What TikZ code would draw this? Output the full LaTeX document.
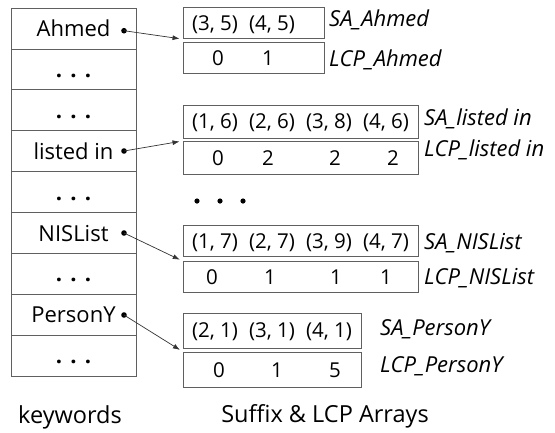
\documentclass[tikz,border=0pt]{standalone}
\usepackage{fontspec}
\setmainfont{Open Sans}
\usetikzlibrary{arrows.meta}

\tikzset{
  kwcell/.style={draw=gray!75!black, line width=0.8pt, minimum width=125pt, minimum height=40.94pt,
    inner sep=0pt, font=\fontsize{22pt}{24pt}\selectfont, text height=15.7pt, text depth=0pt},
  arr/.style={draw=gray!75!black, line width=0.8pt, anchor=north west, inner sep=0pt},
  entry/.style={font=\fontsize{20.5pt}{22pt}\selectfont, text height=14.6pt, text depth=0pt, inner sep=0pt},
  arrname/.style={font=\fontsize{22pt}{24pt}\selectfont\itshape, text height=15.7pt, text depth=0pt,
    inner sep=0pt, anchor=west},
  link/.style={draw=black!80, line width=0.7pt, -{Latex[length=7pt,width=5pt]}, shorten >=3pt},
  caption/.style={font=\fontsize{23.5pt}{26pt}\selectfont}
}
\newcommand{\kdots}{\textbf{.}\hspace{8.2pt}\textbf{.}\hspace{8.2pt}\textbf{.}}

\begin{document}
\begin{tikzpicture}[x=1pt,y=-1pt]
    \useasboundingbox (0,0) rectangle (555,432);
    % keyword column
    \foreach \t [count=\i] in {Ahmed,\kdots,\kdots,listed in,\kdots,NISList,\kdots,PersonY,\kdots}
        \node[kwcell] (k\i) at (73.5,{28.47+40.94*(\i-1)}) {\t};
    % start points of the pointers
    \coordinate (d1) at (124,30.7);
    \coordinate (d4) at (124,151);
    \coordinate (d6) at (124,233);
    \coordinate (d8) at (124,315);
    \foreach \d in {d1,d4,d6,d8}
        \fill (\d) circle (2.8);
    % suffix arrays and LCP arrays
    \node[arr, minimum width=141pt, minimum height=31pt] (sa1) at (182.5,7.3) {};
    \node[arr, minimum width=141pt, minimum height=31pt] (lcp1) at (182.5,42.3) {};
    \node[arr, minimum width=235pt, minimum height=33pt] (sa2) at (182.5,104.7) {};
    \node[arr, minimum width=235pt, minimum height=33pt] (lcp2) at (182.5,141) {};
    \node[arr, minimum width=235pt, minimum height=31pt] (sa3) at (182.5,225) {};
    \node[arr, minimum width=235pt, minimum height=31pt] (lcp3) at (182.5,261) {};
    \node[arr, minimum width=178pt, minimum height=35pt] (sa4) at (182.5,312.7) {};
    \node[arr, minimum width=178pt, minimum height=35pt] (lcp4) at (182.5,352.3) {};
    % entries
    \foreach \e [count=\j] in {{(3, 5)},{(4, 5)}}
        \node[entry] (sa1-\j) at ([xshift={32.5+57*(\j-1)}]sa1.west) {\e};
    \foreach \x/\v [count=\j] in {218/0,268/1}
        \node[entry] (lcp1-\j) at ([xshift={\x-182.5}]lcp1.west) {\v};
    \foreach \e [count=\j] in {{(1, 6)},{(2, 6)},{(3, 8)},{(4, 6)}}
        \node[entry] (sa2-\j) at ([xshift={32.5+57*(\j-1)}]sa2.west) {\e};
    \foreach \x/\v [count=\j] in {218/0,268/2,335/2,393/2}
        \node[entry] (lcp2-\j) at ([xshift={\x-182.5}]lcp2.west) {\v};
    \foreach \e [count=\j] in {{(1, 7)},{(2, 7)},{(3, 9)},{(4, 7)}}
        \node[entry] (sa3-\j) at ([xshift={32.5+57*(\j-1)}]sa3.west) {\e};
    \foreach \x/\v [count=\j] in {212/0,270/1,336/1,386/1}
        \node[entry] (lcp3-\j) at ([xshift={\x-182.5}]lcp3.west) {\v};
    \foreach \e [count=\j] in {{(2, 1)},{(3, 1)},{(4, 1)}}
        \node[entry] (sa4-\j) at ([xshift={32.5+57*(\j-1)}]sa4.west) {\e};
    \foreach \x/\v [count=\j] in {219/0,277/1,335/5}
        \node[entry] (lcp4-\j) at ([xshift={\x-182.5}]lcp4.west) {\v};
    % array names
    \node[arrname] (n1) at (329,18.5) {SA\_Ahmed};
    \node[arrname] (m1) at (329,59) {LCP\_Ahmed};
    \node[arrname] (n2) at (424,117.5) {SA\_listed in};
    \node[arrname] (m2) at (424,148.5) {LCP\_listed in};
    \node[arrname] (n3) at (424,242) {SA\_NISList};
    \node[arrname] (m3) at (424,277) {LCP\_NISList};
    \node[arrname] (n4) at (380,328) {SA\_PersonY};
    \node[arrname] (m4) at (380,365) {LCP\_PersonY};
    % pointers
    \draw[link] (d1) -- (sa1.south west);
    \draw[link] (d4) -- (lcp2.north west);
    \draw[link] (d6) -- (lcp3.north west);
    \draw[link] (d8) -- ([yshift=-3pt]sa4.south west);
    % omitted arrays
    \foreach \x in {197,220,243}
        \fill (\x,201) circle (2.6);
    % captions
    \node[caption] (kw) at (70,417) {keywords};
    \node[caption] (sfx) at (325,416) {Suffix \& LCP Arrays};
\end{tikzpicture}
\end{document}
